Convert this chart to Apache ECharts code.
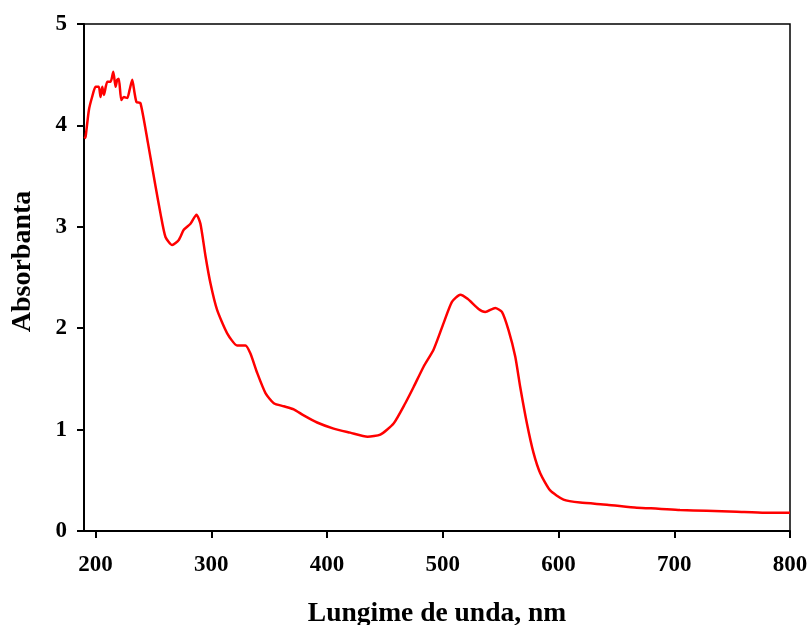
<!DOCTYPE html>
<html>
<head>
<meta charset="utf-8">
<script src="https://cdn.jsdelivr.net/npm/echarts@6/dist/echarts.min.js"></script>
<style>html,body{margin:0;padding:0;background:#fff}#c{width:810px;height:625px}</style>
</head>
<body>
<div id="c"></div>
<script>
var wavelength = [190.5,191.4,194.2,197,200,202.8,204.3,205.8,207.2,210.1,213,215.3,217.3,218.7,220.1,222.2,224.4,227.4,229.4,231.7,233.7,235.4,238.8,245.2,251.8,256.1,260.4,266.2,271.9,276.2,282,287.2,290.6,295,299.3,305,313.7,322.3,329.5,333.8,339.6,346.8,354,362.6,371.2,379.8,391.4,405.7,420,435,446,457.5,467.6,474.8,483.4,492.1,500.7,507.9,515.1,521.4,530.9,536.7,545.3,551.1,556.8,562.6,566.9,572.7,578.4,584.2,592.8,604.3,618.7,641.8,667.7,686.3,705,728,754,778.4,800];
var absorbance = [3.87,3.89,4.15,4.28,4.38,4.38,4.28,4.38,4.30,4.43,4.43,4.53,4.38,4.45,4.46,4.25,4.28,4.27,4.35,4.45,4.32,4.23,4.22,3.83,3.40,3.13,2.90,2.82,2.87,2.97,3.03,3.12,3.03,2.71,2.44,2.18,1.95,1.83,1.83,1.75,1.56,1.36,1.26,1.23,1.20,1.14,1.07,1.01,0.97,0.93,0.95,1.06,1.26,1.42,1.62,1.79,2.05,2.26,2.33,2.29,2.19,2.16,2.20,2.16,1.98,1.72,1.42,1.06,0.77,0.57,0.40,0.31,0.28,0.26,0.23,0.22,0.207,0.20,0.19,0.18,0.18];
var xTicks = [200,300,400,500,600,700,800];
var xTitle = 'Lungime de unda, nm';
var yTitle = 'Absorbanta';

var pts = wavelength.map(function(w,i){return [w, absorbance[i]];});
var font = '"Liberation Serif", "Times New Roman", serif';
var chart = echarts.init(document.getElementById('c'), null, {renderer:'canvas'});
chart.setOption({
  animation:false,
  grid:{left:84,right:20,top:24,bottom:94,outerBoundsMode:'none',containLabel:false,show:true,borderColor:'#000',borderWidth:1.5,backgroundColor:'transparent'},
  xAxis:{type:'value',min:190,max:800,
    name:xTitle,nameLocation:'middle',nameGap:69,
    nameTextStyle:{fontFamily:font,fontWeight:'bold',fontSize:27.5,color:'#000'},
    axisLine:{lineStyle:{color:'#000',width:2}},
    axisTick:{show:true,length:7,lineStyle:{color:'#000',width:2},customValues:xTicks},
    axisLabel:{fontFamily:font,fontWeight:'bold',fontSize:23,color:'#000',margin:23,customValues:xTicks},
    splitLine:{show:false}},
  yAxis:{type:'value',min:0,max:5,interval:1,
    name:yTitle,nameLocation:'middle',nameGap:47,
    nameTextStyle:{fontFamily:font,fontWeight:'bold',fontSize:28,color:'#000',padding:[0,0,0,32]},
    axisLine:{show:true,lineStyle:{color:'#000',width:2}},
    axisTick:{show:true,length:7,lineStyle:{color:'#000',width:2}},
    axisLabel:{fontFamily:font,fontWeight:'bold',fontSize:23,color:'#000',margin:17},
    splitLine:{show:false}},
  series:[{type:'line',data:pts,showSymbol:false,smooth:0.2,
    lineStyle:{color:'#ff0000',width:2.5},itemStyle:{color:'#ff0000'}}]
});
</script>
</body>
</html>
